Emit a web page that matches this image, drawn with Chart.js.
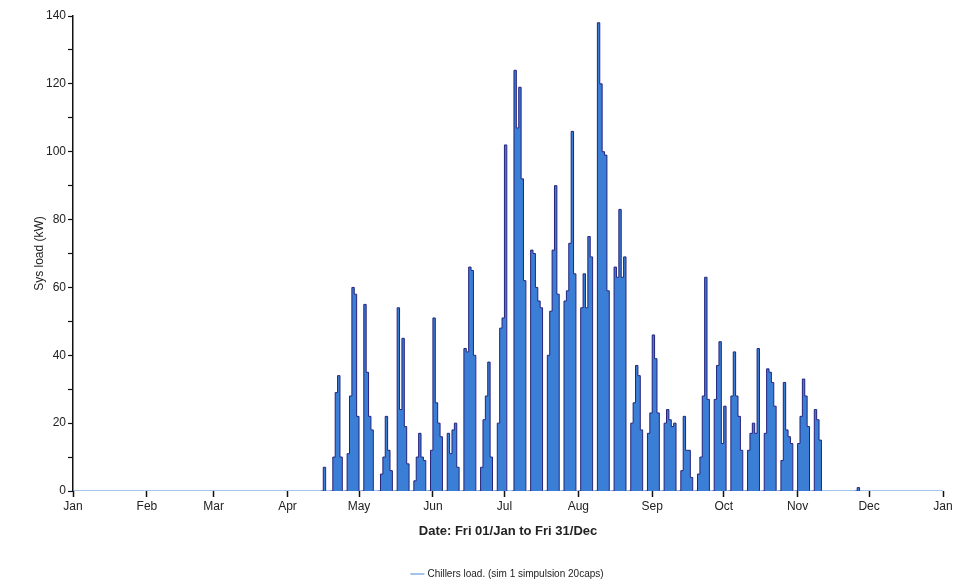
<!DOCTYPE html>
<html>
<head>
<meta charset="utf-8">
<script src="https://cdn.jsdelivr.net/npm/chart.js@4"></script>
<style>
  html, body { margin: 0; padding: 0; background: #fff; }
  #wrap { width: 960px; height: 581px; }
</style>
</head>
<body>
<div id="wrap"><canvas id="loadCanvas"></canvas></div>
<script>
// x is day of year, 0 = Fri 01/Jan
const monthLabels = ["Jan", "Feb", "Mar", "Apr", "May", "Jun", "Jul", "Aug", "Sep", "Oct", "Nov", "Dec", "Jan"]
const monthStartDays = [0, 31, 59, 90, 120, 151, 181, 212, 243, 273, 304, 334, 365]
const yTicks = [0, 20, 40, 60, 80, 100, 120, 140]

// Monday of each working week, and Mon..Fri peak load (kW)
const weekMondays = [101, 108, 115, 122, 129, 136, 143, 150, 157, 164, 171, 178, 185, 192, 199, 206, 213, 220, 227, 234, 241, 248, 255, 262, 269, 276, 283, 290, 297, 304, 311]
const weekLoads = [
    [0, 0, 0, 0, 7],
    [0, 10, 29, 34, 10],
    [11, 28, 60, 58, 22],
    [55, 35, 22, 18, 0],
    [5, 10, 22, 12, 6],
    [54, 24, 45, 19, 8],
    [3, 10, 17, 10, 9],
    [12, 51, 26, 20, 16],
    [17, 11, 18, 20, 7],
    [42, 41, 66, 65, 40],
    [7, 21, 28, 38, 10],
    [20, 48, 51, 102, 0],
    [124, 107, 119, 92, 62],
    [71, 70, 60, 56, 54],
    [40, 53, 71, 90, 58],
    [56, 59, 73, 106, 64],
    [54, 64, 54, 75, 69],
    [138, 120, 100, 99, 59],
    [66, 63, 83, 63, 69],
    [20, 26, 37, 34, 18],
    [17, 23, 46, 39, 23],
    [20, 24, 21, 19, 20],
    [6, 22, 12, 12, 4],
    [5, 10, 28, 63, 27],
    [27, 37, 44, 14, 25],
    [28, 41, 28, 22, 12],
    [12, 17, 20, 17, 42],
    [17, 36, 35, 32, 25],
    [9, 32, 18, 16, 14],
    [14, 22, 33, 28, 19],
    [24, 21, 15, 0, 0]
]
const otherDays = [329]
const otherLoads = [1]

// daily series over the whole year, zero where nothing was drawn
const loadByDay = new Array(366).fill(0)
weekMondays.forEach((mon, w) => {
    weekLoads[w].forEach((v, i) => { loadByDay[mon + i] = v })
})
otherDays.forEach((d, i) => { loadByDay[d] = otherLoads[i] })
const points = loadByDay.map((v, d) => ({x: d, y: v}))

const navy = "#25237c"
const lightBlue = "#4a88d2"

const loadCanvas = document.getElementById("loadCanvas")
const loadChart = new Chart(loadCanvas, {
    type: "line",
    data: {
        datasets: [{
            label: "Chillers load. (sim 1 simpulsion 20caps)",
            data: points,
            stepped: true,
            fill: "origin",
            backgroundColor: "#3a7fd5",
            borderColor: lightBlue,
            borderWidth: 1,
            pointRadius: 0,
            segment: {
                borderColor: ctx => (ctx.p0.parsed.y === 0 && ctx.p1.parsed.y === 0) ? lightBlue : navy
            }
        }]
    },
    options: {
        responsive: true,
        maintainAspectRatio: false,
        animation: false,
        layout: {padding: {left: 0, right: 17, top: 16, bottom: -8}},
        plugins: {
            tooltip: {enabled: false},
            legend: {
                position: "bottom",
                fullSize: false,
                labels: {
                    usePointStyle: true,
                    pointStyle: "line",
                    boxWidth: 22,
                    color: "#222",
                    font: {family: "Liberation Sans", size: 10},
                    padding: 2
                }
            }
        },
        scales: {
            x: {
                type: "linear",
                min: 0,
                max: 365,
                afterBuildTicks: scale => { scale.ticks = monthStartDays.map(v => ({value: v})) },
                ticks: {
                    autoSkip: false,
                    maxRotation: 0,
                    color: "#222",
                    padding: 2,
                    font: {family: "Liberation Sans", size: 12},
                    callback: (v, i) => monthLabels[i]
                },
                grid: {drawOnChartArea: false, drawTicks: true, tickLength: 6, color: "#111", tickWidth: 1.5},
                border: {display: false},
                title: {
                    display: true,
                    text: "Date: Fri 01/Jan to Fri 31/Dec",
                    color: "#222",
                    font: {family: "Liberation Sans", size: 13, weight: "bold"},
                    padding: {top: 8, bottom: 28}
                }
            },
            y: {
                min: 0,
                max: 140,
                afterBuildTicks: scale => {
                    const t = []
                    for (let i = 0; i < yTicks.length; i++) {
                        t.push({value: yTicks[i]})
                        if (i < yTicks.length - 1) t.push({value: (yTicks[i] + yTicks[i + 1]) / 2})
                    }
                    scale.ticks = t
                },
                afterFit: scale => { scale.width = 73 },
                ticks: {
                    color: "#222",
                    padding: 2,
                    font: {family: "Liberation Sans", size: 12},
                    callback: v => yTicks.includes(v) ? v : ""
                },
                grid: {drawOnChartArea: false, drawTicks: true, tickLength: 5, color: "#111", tickWidth: 1.2},
                border: {display: true, color: "#111", width: 1.5},
                title: {
                    display: true,
                    text: "Sys load (kW)",
                    color: "#222",
                    font: {family: "Liberation Sans", size: 12},
                    padding: {top: 32, bottom: 0}
                }
            }
        }
    }
})
</script>
</body>
</html>
